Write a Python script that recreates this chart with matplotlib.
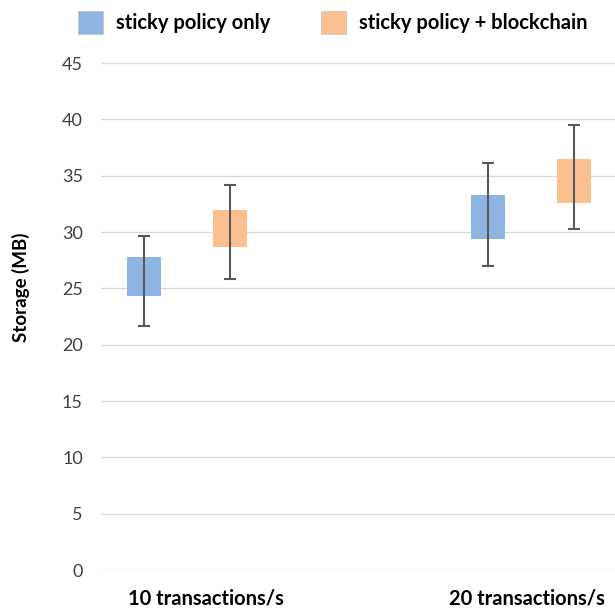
import numpy as np
import matplotlib
matplotlib.use('Agg')
import matplotlib.pyplot as plt
from matplotlib.patches import Patch

# dati (MB)
categories = ['10 transactions/s', '20 transactions/s']
series = ['sticky policy only', 'sticky policy + blockchain']

only_low = [24.3, 29.35]
only_high = [27.8, 33.3]
only_min = [21.65, 27.0]
only_max = [29.7, 36.1]

bc_low = [28.7, 32.6]
bc_high = [32.0, 36.5]
bc_min = [25.8, 30.3]
bc_max = [34.2, 39.5]

colors = ['#8DB4E2', '#FAC090']
yticks = [0, 5, 10, 15, 20, 25, 30, 35, 40, 45]

plt.rcParams['font.family'] = ['Lato', 'DejaVu Sans']

fig = plt.figure(figsize=(6.15, 6.13), dpi=100)
ax = fig.add_axes([0.164, 0.070, 0.836, 0.827])

x = np.arange(len(categories))
offset = 0.125
width = 0.1

boxes = [(only_low, only_high, only_min, only_max), (bc_low, bc_high, bc_min, bc_max)]
for i, (lo, hi, mn, mx) in enumerate(boxes):
    lo = np.array(lo); hi = np.array(hi)
    mn = np.array(mn); mx = np.array(mx)
    xs = x + (2 * i - 1) * offset
    ax.bar(xs, hi - lo, width, bottom=lo, color=colors[i], zorder=2)
    mid = (lo + hi) / 2
    ax.errorbar(xs, mid, yerr=[mid - mn, mx - mid], fmt='none', ecolor='#595959',
                elinewidth=1.5, capsize=4, capthick=1.5, zorder=3)

ax.set_ylim(0, 45)
ax.set_xlim(-0.25, 1.244)
ax.set_yticks(yticks)
ax.grid(axis='y', color='#d9d9d9', linewidth=1, zorder=0)
ax.set_axisbelow(True)
for s in ax.spines.values():
    s.set_visible(False)
ax.tick_params(axis='y', length=0, pad=13, labelsize=13, labelcolor='#404040')

# etichette categorie un po' spostate come nell'originale
ax.set_xticks(x + np.array([0.055, -0.012]))
ax.set_xticklabels(categories, fontweight='bold', fontsize=14.5)
ax.tick_params(axis='x', length=0, pad=13, labelcolor='black')

ax.set_ylabel('Storage (MB)', fontweight='bold', fontsize=13.5)
ax.yaxis.set_label_coords(-0.138, 0.558)

handles = [Patch(facecolor=c, edgecolor='#c0c0c0', linewidth=0.5) for c in colors]
fig.legend(handles, series, loc='upper left', bbox_to_anchor=(0.127, 0.982), ncol=2,
           frameon=False, prop={'weight': 'bold', 'size': 14.5}, borderaxespad=0, borderpad=0,
           handlelength=1.24, handleheight=1.34, handletextpad=0.65, columnspacing=2.5)

fig.savefig('out.png', dpi=100)
